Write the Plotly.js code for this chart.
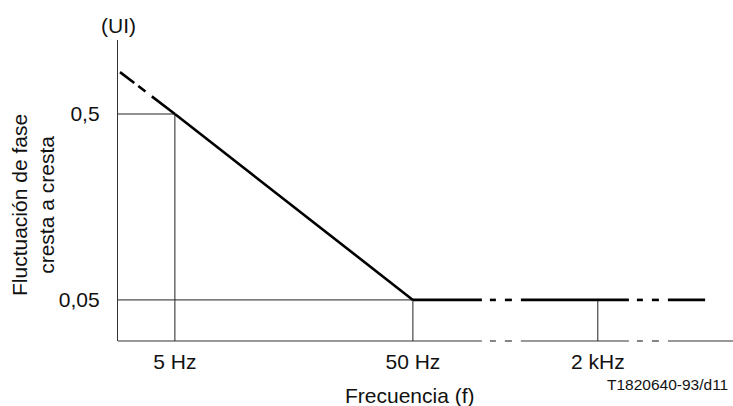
<!DOCTYPE html>
<html>
<head>
<meta charset="utf-8">
<script src="https://cdn.plot.ly/plotly-3.0.1.min.js"></script>
<style>html,body{margin:0;padding:0;background:#fff;}#chart{width:733px;height:406px;}</style>
</head>
<body>
<div id="chart"></div>
<script>
// ---- data ----
const extrapFreqHz = [2.94, 5];          // dashed extrapolation
const extrapUI     = [0.84, 0.5];
const slopeFreqHz  = [5, 50];            // solid 1/f part
const slopeUI      = [0.5, 0.05];
const flatFreqHz   = [50, 17000];        // flat part
const flatUI       = [0.05, 0.05];
const tickFreqHz   = [5, 50, 2000];
const tickLabels   = ['5 Hz', '50 Hz', '2 kHz'];
const yTickVals    = [0.5, 0.05];
const yTickLabels  = ['0,5', '0,05'];
const dropFreqHz   = [5, 50, 2000];      // vertical guide lines
const dropUI       = [0.5, 0.05, 0.05];

// ---- broken (compressed) frequency axis ----
const BREAK_F = 50, K = 0.485;
function pos(f){ return f <= BREAK_F ? Math.log10(f) : Math.log10(BREAK_F) + K*Math.log10(f/BREAK_F); }
const PX = 1/238;                         // one pixel in axis units
const breakStarts = [pos(50) + 69*PX, pos(50) + 216*PX];
const breakPieces = [[8,14],[23,30]], breakEnd = 39;
function segments(a, b){
  const segs = []; let cur = a;
  breakStarts.forEach(s => {
    if (s > cur && s < b){
      segs.push([cur, s]);
      breakPieces.forEach(p => segs.push([s + p[0]*PX, s + p[1]*PX]));
      cur = s + breakEnd*PX;
    }
  });
  segs.push([cur, b]);
  return segs;
}

const xRange = [pos(extrapFreqHz[0]) - 2*PX, pos(extrapFreqHz[0]) + 613*PX];
const yRange = [-1.522, 0.097];
const yLow = 0.005;

const thin = {color:'#222', width:1};
const traces = [];
// guide lines
traces.push({x:[xRange[0]-1, pos(slopeFreqHz[0])], y:[yTickVals[0], yTickVals[0]], mode:'lines', line:thin, hoverinfo:'skip'});
traces.push({x:[xRange[0]-1, pos(flatFreqHz[0])], y:[yTickVals[1], yTickVals[1]], mode:'lines', line:thin, hoverinfo:'skip'});
dropFreqHz.forEach((f,i) => traces.push({x:[pos(f), pos(f)], y:[yLow, dropUI[i]], mode:'lines', line:thin, hoverinfo:'skip'}));
// mask
traces.push({x:extrapFreqHz.map(pos), y:extrapUI, mode:'lines', line:{color:'#000', width:2.6, dash:'18px,5px,9px,8px,200px'}, hoverinfo:'skip'});
traces.push({x:slopeFreqHz.map(pos), y:slopeUI, mode:'lines', line:{color:'#000', width:2.6}, hoverinfo:'skip'});
const fx = [], fy = [];
segments(pos(flatFreqHz[0]), pos(flatFreqHz[1])).forEach(s => { fx.push(s[0], s[1], null); fy.push(flatUI[0], flatUI[1], null); });
traces.push({x:fx, y:fy, mode:'lines', line:{color:'#000', width:2.6}, connectgaps:false, hoverinfo:'skip'});

// bottom axis line with breaks
const shapes = segments(xRange[0], xRange[1]).map(s => ({type:'line', xref:'x', yref:'paper', x0:s[0], x1:s[1], y0:0, y1:0, line:{color:'#333', width:1.2}}));

const font = {family:'"Liberation Sans", Arial, sans-serif', size:21, color:'#111'};
const layout = {
  width:733, height:406,
  margin:{l:118, r:0, t:40, b:65},
  paper_bgcolor:'#fff', plot_bgcolor:'#fff',
  showlegend:false,
  font:font,
  xaxis:{range:xRange, showgrid:false, zeroline:false, showline:false, ticks:'',
         tickmode:'array', tickvals:tickFreqHz.map(pos), ticktext:tickLabels, tickfont:font, ticklabelstandoff:6},
  yaxis:{type:'log', range:yRange, showgrid:false, zeroline:false, showline:true, linecolor:'#333', linewidth:1.2,
         ticks:'', tickmode:'array', tickvals:yTickVals, ticktext:yTickLabels, tickfont:font, ticklabelstandoff:13},
  shapes:shapes,
  annotations:[
    {text:'(UI)', xref:'paper', yref:'paper', x:0, y:1 + 14/301, xanchor:'center', yanchor:'middle', showarrow:false, font:font},
    {text:'Fluctuación de fase<br>cresta a cresta', xref:'paper', yref:'paper', x:(33-118)/615, y:1-(205-40)/301, textangle:-90, xanchor:'center', yanchor:'middle', showarrow:false, font:font},
    {text:'Frecuencia (f)', xref:'paper', yref:'paper', x:(410-118)/615, y:(341-395)/301, xanchor:'center', yanchor:'middle', showarrow:false, font:font},
    {text:'T1820640-93/d11', xref:'paper', yref:'paper', x:(730-118)/615, y:(341-384)/301, xanchor:'right', yanchor:'middle', showarrow:false, font:Object.assign({}, font, {size:15.5})}
  ]
};
Plotly.newPlot('chart', traces, layout, {staticPlot:true, displayModeBar:false});
</script>
</body>
</html>
